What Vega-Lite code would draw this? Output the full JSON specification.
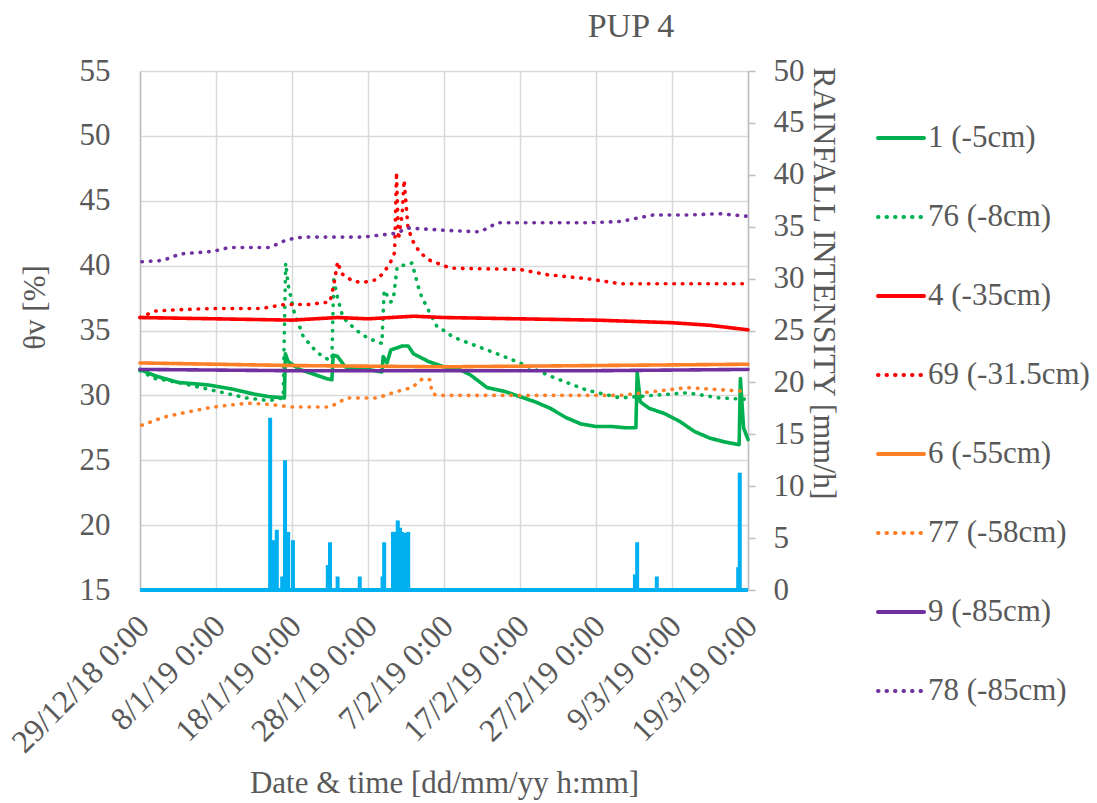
{
  "$schema": "https://vega.github.io/schema/vega-lite/v6.json",
  "width": 608,
  "height": 519,
  "autosize": {"type": "none"},
  "padding": {"left": 140, "top": 71, "right": 349, "bottom": 213},
  "background": "white",
  "title": {
    "text": "PUP 4",
    "font": "Liberation Serif",
    "fontSize": 34,
    "fontWeight": "normal",
    "color": "#595959",
    "anchor": "middle",
    "frame": "group",
    "dx": 187,
    "dy": 34,
    "baseline": "alphabetic",
    "offset": 18
  },
  "config": {
    "view": {"stroke": null},
    "axis": {
      "labelFont": "Liberation Serif",
      "titleFont": "Liberation Serif",
      "labelColor": "#595959",
      "titleColor": "#595959",
      "labelFontSize": 31,
      "titleFontSize": 31,
      "titleFontWeight": "normal",
      "gridColor": "#D9D9D9",
      "gridWidth": 1.5,
      "domainColor": "#BFBFBF",
      "domainWidth": 1.5,
      "tickColor": "#BFBFBF",
      "tickWidth": 1.5
    }
  },
  "datasets": {
    "soil": [
      {"s": "1 (-5cm)", "t": "2018-12-29T00:00", "v": 32.0},
      {"s": "1 (-5cm)", "t": "2018-12-31T00:00", "v": 31.5},
      {"s": "1 (-5cm)", "t": "2019-01-03T00:00", "v": 31.0},
      {"s": "1 (-5cm)", "t": "2019-01-07T00:00", "v": 30.8},
      {"s": "1 (-5cm)", "t": "2019-01-10T00:00", "v": 30.5},
      {"s": "1 (-5cm)", "t": "2019-01-13T00:00", "v": 30.1},
      {"s": "1 (-5cm)", "t": "2019-01-15T00:00", "v": 29.9},
      {"s": "1 (-5cm)", "t": "2019-01-17T00:00", "v": 29.8},
      {"s": "1 (-5cm)", "t": "2019-01-17T03:00", "v": 33.2},
      {"s": "1 (-5cm)", "t": "2019-01-17T12:00", "v": 32.6},
      {"s": "1 (-5cm)", "t": "2019-01-19T00:00", "v": 32.0},
      {"s": "1 (-5cm)", "t": "2019-01-21T00:00", "v": 31.6},
      {"s": "1 (-5cm)", "t": "2019-01-22T12:00", "v": 31.3},
      {"s": "1 (-5cm)", "t": "2019-01-23T06:00", "v": 31.2},
      {"s": "1 (-5cm)", "t": "2019-01-23T10:00", "v": 33.1},
      {"s": "1 (-5cm)", "t": "2019-01-24T00:00", "v": 33.0},
      {"s": "1 (-5cm)", "t": "2019-01-25T00:00", "v": 32.2},
      {"s": "1 (-5cm)", "t": "2019-01-26T12:00", "v": 32.0},
      {"s": "1 (-5cm)", "t": "2019-01-28T00:00", "v": 32.0},
      {"s": "1 (-5cm)", "t": "2019-01-29T20:00", "v": 31.8},
      {"s": "1 (-5cm)", "t": "2019-01-30T00:00", "v": 33.0},
      {"s": "1 (-5cm)", "t": "2019-01-30T12:00", "v": 32.5},
      {"s": "1 (-5cm)", "t": "2019-01-31T00:00", "v": 33.5},
      {"s": "1 (-5cm)", "t": "2019-02-01T12:00", "v": 33.8},
      {"s": "1 (-5cm)", "t": "2019-02-02T07:00", "v": 33.8},
      {"s": "1 (-5cm)", "t": "2019-02-03T00:00", "v": 33.2},
      {"s": "1 (-5cm)", "t": "2019-02-05T00:00", "v": 32.6},
      {"s": "1 (-5cm)", "t": "2019-02-07T00:00", "v": 32.2},
      {"s": "1 (-5cm)", "t": "2019-02-09T00:00", "v": 32.0},
      {"s": "1 (-5cm)", "t": "2019-02-10T10:00", "v": 31.6},
      {"s": "1 (-5cm)", "t": "2019-02-12T16:00", "v": 30.6},
      {"s": "1 (-5cm)", "t": "2019-02-15T00:00", "v": 30.3},
      {"s": "1 (-5cm)", "t": "2019-02-17T00:00", "v": 29.9},
      {"s": "1 (-5cm)", "t": "2019-02-19T00:00", "v": 29.5},
      {"s": "1 (-5cm)", "t": "2019-02-21T00:00", "v": 29.0},
      {"s": "1 (-5cm)", "t": "2019-02-23T00:00", "v": 28.3},
      {"s": "1 (-5cm)", "t": "2019-02-25T00:00", "v": 27.8},
      {"s": "1 (-5cm)", "t": "2019-02-27T00:00", "v": 27.6},
      {"s": "1 (-5cm)", "t": "2019-03-01T00:00", "v": 27.6},
      {"s": "1 (-5cm)", "t": "2019-03-03T00:00", "v": 27.5},
      {"s": "1 (-5cm)", "t": "2019-03-04T06:00", "v": 27.5},
      {"s": "1 (-5cm)", "t": "2019-03-04T10:00", "v": 31.8},
      {"s": "1 (-5cm)", "t": "2019-03-04T20:00", "v": 29.5},
      {"s": "1 (-5cm)", "t": "2019-03-06T00:00", "v": 29.0},
      {"s": "1 (-5cm)", "t": "2019-03-08T00:00", "v": 28.6},
      {"s": "1 (-5cm)", "t": "2019-03-10T00:00", "v": 28.0},
      {"s": "1 (-5cm)", "t": "2019-03-12T00:00", "v": 27.2},
      {"s": "1 (-5cm)", "t": "2019-03-14T00:00", "v": 26.7},
      {"s": "1 (-5cm)", "t": "2019-03-16T00:00", "v": 26.4},
      {"s": "1 (-5cm)", "t": "2019-03-17T20:00", "v": 26.2},
      {"s": "1 (-5cm)", "t": "2019-03-18T00:00", "v": 31.3},
      {"s": "1 (-5cm)", "t": "2019-03-18T10:00", "v": 27.5},
      {"s": "1 (-5cm)", "t": "2019-03-19T00:00", "v": 26.6},

      {"s": "76 (-8cm)", "t": "2018-12-29T00:00", "v": 31.9},
      {"s": "76 (-8cm)", "t": "2018-12-31T00:00", "v": 31.3},
      {"s": "76 (-8cm)", "t": "2019-01-03T00:00", "v": 31.0},
      {"s": "76 (-8cm)", "t": "2019-01-06T00:00", "v": 30.6},
      {"s": "76 (-8cm)", "t": "2019-01-09T00:00", "v": 30.2},
      {"s": "76 (-8cm)", "t": "2019-01-12T00:00", "v": 29.8},
      {"s": "76 (-8cm)", "t": "2019-01-15T00:00", "v": 29.6},
      {"s": "76 (-8cm)", "t": "2019-01-16T20:00", "v": 29.8},
      {"s": "76 (-8cm)", "t": "2019-01-17T04:00", "v": 40.2},
      {"s": "76 (-8cm)", "t": "2019-01-17T12:00", "v": 38.5},
      {"s": "76 (-8cm)", "t": "2019-01-18T06:00", "v": 36.5},
      {"s": "76 (-8cm)", "t": "2019-01-19T00:00", "v": 35.3},
      {"s": "76 (-8cm)", "t": "2019-01-19T12:00", "v": 34.5},
      {"s": "76 (-8cm)", "t": "2019-01-21T00:00", "v": 33.5},
      {"s": "76 (-8cm)", "t": "2019-01-22T00:00", "v": 33.0},
      {"s": "76 (-8cm)", "t": "2019-01-23T00:00", "v": 32.7},
      {"s": "76 (-8cm)", "t": "2019-01-23T06:00", "v": 32.8},
      {"s": "76 (-8cm)", "t": "2019-01-23T12:00", "v": 38.9},
      {"s": "76 (-8cm)", "t": "2019-01-24T00:00", "v": 37.5},
      {"s": "76 (-8cm)", "t": "2019-01-24T17:00", "v": 36.0},
      {"s": "76 (-8cm)", "t": "2019-01-26T12:00", "v": 35.0},
      {"s": "76 (-8cm)", "t": "2019-01-28T00:00", "v": 34.4},
      {"s": "76 (-8cm)", "t": "2019-01-29T20:00", "v": 34.0},
      {"s": "76 (-8cm)", "t": "2019-01-30T03:00", "v": 38.1},
      {"s": "76 (-8cm)", "t": "2019-01-31T00:00", "v": 37.2},
      {"s": "76 (-8cm)", "t": "2019-01-31T08:00", "v": 37.4},
      {"s": "76 (-8cm)", "t": "2019-01-31T20:00", "v": 39.9},
      {"s": "76 (-8cm)", "t": "2019-02-02T19:00", "v": 40.2},
      {"s": "76 (-8cm)", "t": "2019-02-03T20:00", "v": 37.9},
      {"s": "76 (-8cm)", "t": "2019-02-05T00:00", "v": 36.5},
      {"s": "76 (-8cm)", "t": "2019-02-06T02:00", "v": 35.3},
      {"s": "76 (-8cm)", "t": "2019-02-07T00:00", "v": 35.0},
      {"s": "76 (-8cm)", "t": "2019-02-08T04:00", "v": 34.5},
      {"s": "76 (-8cm)", "t": "2019-02-11T18:00", "v": 33.7},
      {"s": "76 (-8cm)", "t": "2019-02-14T00:00", "v": 33.2},
      {"s": "76 (-8cm)", "t": "2019-02-17T00:00", "v": 32.5},
      {"s": "76 (-8cm)", "t": "2019-02-21T08:00", "v": 31.4},
      {"s": "76 (-8cm)", "t": "2019-02-25T19:00", "v": 30.4},
      {"s": "76 (-8cm)", "t": "2019-03-02T05:00", "v": 29.8},
      {"s": "76 (-8cm)", "t": "2019-03-06T12:00", "v": 30.0},
      {"s": "76 (-8cm)", "t": "2019-03-11T00:00", "v": 30.2},
      {"s": "76 (-8cm)", "t": "2019-03-15T07:00", "v": 29.8},
      {"s": "76 (-8cm)", "t": "2019-03-19T00:00", "v": 29.7},

      {"s": "4 (-35cm)", "t": "2018-12-29T00:00", "v": 36.0},
      {"s": "4 (-35cm)", "t": "2019-01-08T00:00", "v": 35.9},
      {"s": "4 (-35cm)", "t": "2019-01-18T00:00", "v": 35.8},
      {"s": "4 (-35cm)", "t": "2019-01-24T00:00", "v": 36.0},
      {"s": "4 (-35cm)", "t": "2019-01-28T00:00", "v": 35.9},
      {"s": "4 (-35cm)", "t": "2019-02-03T00:00", "v": 36.1},
      {"s": "4 (-35cm)", "t": "2019-02-07T00:00", "v": 36.0},
      {"s": "4 (-35cm)", "t": "2019-02-17T00:00", "v": 35.9},
      {"s": "4 (-35cm)", "t": "2019-02-27T00:00", "v": 35.8},
      {"s": "4 (-35cm)", "t": "2019-03-09T00:00", "v": 35.6},
      {"s": "4 (-35cm)", "t": "2019-03-14T00:00", "v": 35.4},
      {"s": "4 (-35cm)", "t": "2019-03-19T00:00", "v": 35.05},

      {"s": "69 (-31.5cm)", "t": "2018-12-29T00:00", "v": 36.0},
      {"s": "69 (-31.5cm)", "t": "2018-12-31T00:00", "v": 36.5},
      {"s": "69 (-31.5cm)", "t": "2019-01-03T00:00", "v": 36.6},
      {"s": "69 (-31.5cm)", "t": "2019-01-08T00:00", "v": 36.7},
      {"s": "69 (-31.5cm)", "t": "2019-01-14T00:00", "v": 36.7},
      {"s": "69 (-31.5cm)", "t": "2019-01-17T00:00", "v": 37.0},
      {"s": "69 (-31.5cm)", "t": "2019-01-20T00:00", "v": 37.0},
      {"s": "69 (-31.5cm)", "t": "2019-01-23T00:00", "v": 37.2},
      {"s": "69 (-31.5cm)", "t": "2019-01-23T12:00", "v": 38.5},
      {"s": "69 (-31.5cm)", "t": "2019-01-24T00:00", "v": 40.3},
      {"s": "69 (-31.5cm)", "t": "2019-01-24T12:00", "v": 39.4},
      {"s": "69 (-31.5cm)", "t": "2019-01-26T00:00", "v": 38.8},
      {"s": "69 (-31.5cm)", "t": "2019-01-27T08:00", "v": 38.7},
      {"s": "69 (-31.5cm)", "t": "2019-01-29T00:00", "v": 38.9},
      {"s": "69 (-31.5cm)", "t": "2019-01-30T00:00", "v": 39.4},
      {"s": "69 (-31.5cm)", "t": "2019-01-30T22:00", "v": 40.2},
      {"s": "69 (-31.5cm)", "t": "2019-01-31T12:00", "v": 41.0},
      {"s": "69 (-31.5cm)", "t": "2019-01-31T18:00", "v": 47.2},
      {"s": "69 (-31.5cm)", "t": "2019-02-01T00:00", "v": 42.0},
      {"s": "69 (-31.5cm)", "t": "2019-02-01T12:00", "v": 44.0},
      {"s": "69 (-31.5cm)", "t": "2019-02-01T18:00", "v": 46.6},
      {"s": "69 (-31.5cm)", "t": "2019-02-02T06:00", "v": 43.0},
      {"s": "69 (-31.5cm)", "t": "2019-02-02T19:00", "v": 42.0},
      {"s": "69 (-31.5cm)", "t": "2019-02-03T20:00", "v": 41.0},
      {"s": "69 (-31.5cm)", "t": "2019-02-05T04:00", "v": 40.4},
      {"s": "69 (-31.5cm)", "t": "2019-02-07T10:00", "v": 39.9},
      {"s": "69 (-31.5cm)", "t": "2019-02-08T04:00", "v": 39.8},
      {"s": "69 (-31.5cm)", "t": "2019-02-17T00:00", "v": 39.7},
      {"s": "69 (-31.5cm)", "t": "2019-02-20T14:00", "v": 39.3},
      {"s": "69 (-31.5cm)", "t": "2019-02-25T19:00", "v": 39.0},
      {"s": "69 (-31.5cm)", "t": "2019-03-02T05:00", "v": 38.6},
      {"s": "69 (-31.5cm)", "t": "2019-03-11T00:00", "v": 38.6},
      {"s": "69 (-31.5cm)", "t": "2019-03-19T00:00", "v": 38.6},

      {"s": "6 (-55cm)", "t": "2018-12-29T00:00", "v": 32.5},
      {"s": "6 (-55cm)", "t": "2019-01-18T00:00", "v": 32.3},
      {"s": "6 (-55cm)", "t": "2019-02-07T00:00", "v": 32.2},
      {"s": "6 (-55cm)", "t": "2019-02-27T00:00", "v": 32.3},
      {"s": "6 (-55cm)", "t": "2019-03-19T00:00", "v": 32.4},

      {"s": "77 (-58cm)", "t": "2018-12-29T06:00", "v": 27.7},
      {"s": "77 (-58cm)", "t": "2019-01-01T00:00", "v": 28.3},
      {"s": "77 (-58cm)", "t": "2019-01-03T07:00", "v": 28.6},
      {"s": "77 (-58cm)", "t": "2019-01-07T14:00", "v": 29.1},
      {"s": "77 (-58cm)", "t": "2019-01-12T02:00", "v": 29.4},
      {"s": "77 (-58cm)", "t": "2019-01-15T03:00", "v": 29.3},
      {"s": "77 (-58cm)", "t": "2019-01-18T00:00", "v": 29.1},
      {"s": "77 (-58cm)", "t": "2019-01-23T00:00", "v": 29.1},
      {"s": "77 (-58cm)", "t": "2019-01-25T05:00", "v": 29.8},
      {"s": "77 (-58cm)", "t": "2019-01-29T05:00", "v": 29.8},
      {"s": "77 (-58cm)", "t": "2019-01-31T19:00", "v": 30.3},
      {"s": "77 (-58cm)", "t": "2019-02-02T19:00", "v": 30.6},
      {"s": "77 (-58cm)", "t": "2019-02-04T05:00", "v": 31.3},
      {"s": "77 (-58cm)", "t": "2019-02-05T04:00", "v": 31.2},
      {"s": "77 (-58cm)", "t": "2019-02-05T10:00", "v": 30.2},
      {"s": "77 (-58cm)", "t": "2019-02-06T00:00", "v": 30.0},
      {"s": "77 (-58cm)", "t": "2019-03-02T05:00", "v": 30.0},
      {"s": "77 (-58cm)", "t": "2019-03-11T00:00", "v": 30.6},
      {"s": "77 (-58cm)", "t": "2019-03-19T00:00", "v": 30.3},

      {"s": "9 (-85cm)", "t": "2018-12-29T00:00", "v": 32.0},
      {"s": "9 (-85cm)", "t": "2019-01-18T00:00", "v": 31.9},
      {"s": "9 (-85cm)", "t": "2019-02-07T00:00", "v": 31.9},
      {"s": "9 (-85cm)", "t": "2019-02-27T00:00", "v": 31.9},
      {"s": "9 (-85cm)", "t": "2019-03-19T00:00", "v": 32.0},

      {"s": "78 (-85cm)", "t": "2018-12-29T06:00", "v": 40.3},
      {"s": "78 (-85cm)", "t": "2019-01-01T00:00", "v": 40.4},
      {"s": "78 (-85cm)", "t": "2019-01-03T07:00", "v": 40.9},
      {"s": "78 (-85cm)", "t": "2019-01-07T14:00", "v": 41.1},
      {"s": "78 (-85cm)", "t": "2019-01-09T19:00", "v": 41.4},
      {"s": "78 (-85cm)", "t": "2019-01-15T03:00", "v": 41.4},
      {"s": "78 (-85cm)", "t": "2019-01-17T08:00", "v": 42.0},
      {"s": "78 (-85cm)", "t": "2019-01-19T10:00", "v": 42.2},
      {"s": "78 (-85cm)", "t": "2019-01-27T08:00", "v": 42.2},
      {"s": "78 (-85cm)", "t": "2019-01-31T19:00", "v": 42.5},
      {"s": "78 (-85cm)", "t": "2019-02-02T03:00", "v": 42.9},
      {"s": "78 (-85cm)", "t": "2019-02-07T19:00", "v": 42.7},
      {"s": "78 (-85cm)", "t": "2019-02-11T18:00", "v": 42.6},
      {"s": "78 (-85cm)", "t": "2019-02-14T00:00", "v": 43.3},
      {"s": "78 (-85cm)", "t": "2019-02-25T19:00", "v": 43.3},
      {"s": "78 (-85cm)", "t": "2019-03-02T05:00", "v": 43.4},
      {"s": "78 (-85cm)", "t": "2019-03-06T12:00", "v": 43.9},
      {"s": "78 (-85cm)", "t": "2019-03-11T00:00", "v": 43.9},
      {"s": "78 (-85cm)", "t": "2019-03-15T07:00", "v": 44.0},
      {"s": "78 (-85cm)", "t": "2019-03-19T00:00", "v": 43.8}
    ],
    "rain": [
      {"t": "2019-01-15T03:00", "r": 16.6},
      {"t": "2019-01-15T12:00", "r": 4.8},
      {"t": "2019-01-16T00:00", "r": 5.8},
      {"t": "2019-01-16T17:00", "r": 1.3},
      {"t": "2019-01-17T02:00", "r": 12.5},
      {"t": "2019-01-17T12:00", "r": 5.6},
      {"t": "2019-01-18T03:00", "r": 4.8},
      {"t": "2019-01-22T17:00", "r": 2.4},
      {"t": "2019-01-23T00:00", "r": 4.6},
      {"t": "2019-01-24T00:00", "r": 1.3},
      {"t": "2019-01-26T22:00", "r": 1.3},
      {"t": "2019-01-29T22:00", "r": 1.3},
      {"t": "2019-01-30T03:00", "r": 4.6},
      {"t": "2019-01-31T07:00", "r": 5.6},
      {"t": "2019-01-31T14:00", "r": 5.6},
      {"t": "2019-01-31T22:00", "r": 6.7},
      {"t": "2019-02-01T05:00", "r": 6.0},
      {"t": "2019-02-01T12:00", "r": 5.6},
      {"t": "2019-02-01T21:00", "r": 5.5},
      {"t": "2019-02-02T07:00", "r": 5.6},
      {"t": "2019-03-04T03:00", "r": 1.5},
      {"t": "2019-03-04T10:00", "r": 4.6},
      {"t": "2019-03-07T00:00", "r": 1.3},
      {"t": "2019-03-17T17:00", "r": 2.2},
      {"t": "2019-03-17T22:00", "r": 11.3}
    ]
  },
  "layer": [
    {
      "data": {"name": "rain"},
      "layer": [
        {
          "mark": {"type": "rule", "color": "#00B0F0", "strokeWidth": 4},
          "encoding": {
            "x": {"field": "t", "type": "temporal"},
            "y": {
              "field": "r",
              "type": "quantitative",
              "scale": {"domain": [0, 50], "nice": false},
              "axis": {
                "orient": "right",
                "title": "RAINFALL INTENSITY [mm/h]",
                "values": [0, 5, 10, 15, 20, 25, 30, 35, 40, 45, 50],
                "grid": false,
                "tickSize": 7,
                "labelPadding": 18,
                "titleFontSize": 32,
                "titleAngle": 90,
                "titleBaseline": "middle",
                "titleX": 75,
                "titleY": 212
              }
            },
            "y2": {"datum": 0}
          }
        },
        {
          "data": {"values": [{}]},
          "mark": {"type": "rule", "color": "#00B0F0", "strokeWidth": 4},
          "encoding": {"y": {"datum": 0}}
        }
      ]
    },
    {
      "data": {"name": "soil"},
      "mark": {"type": "line", "strokeWidth": 3.6, "strokeCap": "round", "strokeJoin": "round"},
      "encoding": {
        "x": {
          "field": "t",
          "type": "temporal",
          "scale": {
            "domain": [
              {"year": 2018, "month": 12, "date": 29},
              {"year": 2019, "month": 3, "date": 19}
            ],
            "nice": false
          },
          "axis": {
            "title": "Date & time [dd/mm/yy h:mm]",
            "format": "%-d/%-m/%y %-H:%M",
            "values": [
              {"year": 2018, "month": 12, "date": 29},
              {"year": 2019, "month": 1, "date": 8},
              {"year": 2019, "month": 1, "date": 18},
              {"year": 2019, "month": 1, "date": 28},
              {"year": 2019, "month": 2, "date": 7},
              {"year": 2019, "month": 2, "date": 17},
              {"year": 2019, "month": 2, "date": 27},
              {"year": 2019, "month": 3, "date": 9},
              {"year": 2019, "month": 3, "date": 19}
            ],
            "labelAngle": -45,
            "labelFontSize": 32,
            "labelPadding": 20,
            "labelOffset": -7,
            "labelOverlap": false,
            "labelBound": false,
            "labelFlush": false,
            "ticks": false,
            "domain": false,
            "grid": true,
            "titleBaseline": "alphabetic",
            "titleY": 202
          }
        },
        "y": {
          "field": "v",
          "type": "quantitative",
          "scale": {"domain": [15, 55], "nice": false, "zero": false},
          "axis": {
            "orient": "left",
            "title": "θv [%]",
            "values": [15, 20, 25, 30, 35, 40, 45, 50, 55],
            "grid": true,
            "ticks": false,
            "labelPadding": 30,
            "titleBaseline": "middle",
            "titleX": -105,
            "titleY": 236
          }
        },
        "color": {
          "field": "s",
          "type": "nominal",
          "scale": {
            "domain": ["1 (-5cm)", "76 (-8cm)", "4 (-35cm)", "69 (-31.5cm)", "6 (-55cm)", "77 (-58cm)", "9 (-85cm)", "78 (-85cm)"],
            "range": ["#00B050", "#00B050", "#FF0000", "#FF0000", "#FF7F27", "#FF7F27", "#7030A0", "#7030A0"]
          },
          "legend": {
            "orient": "none",
            "legendX": 736,
            "legendY": 42,
            "title": null,
            "padding": 0,
            "symbolType": "stroke",
            "symbolSize": 2116,
            "symbolStrokeWidth": 4,
            "labelFont": "Liberation Serif",
            "labelFontSize": 31,
            "labelColor": "#595959",
            "labelOffset": 2,
            "labelLimit": 400,
            "rowPadding": 39,
            "encode": {"symbols": {"update": {"strokeCap": {"value": "round"}}}}
          }
        },
        "strokeDash": {
          "field": "s",
          "type": "nominal",
          "scale": {
            "domain": ["1 (-5cm)", "76 (-8cm)", "4 (-35cm)", "69 (-31.5cm)", "6 (-55cm)", "77 (-58cm)", "9 (-85cm)", "78 (-85cm)"],
            "range": [[1, 0], [0.5, 8], [1, 0], [0.5, 8], [1, 0], [0.5, 8], [1, 0], [0.5, 8]]
          },
          "legend": {
            "orient": "none",
            "legendX": 736,
            "legendY": 42,
            "title": null,
            "padding": 0,
            "symbolType": "stroke",
            "symbolSize": 2116,
            "symbolStrokeWidth": 4,
            "labelFont": "Liberation Serif",
            "labelFontSize": 31,
            "labelColor": "#595959",
            "labelOffset": 2,
            "labelLimit": 400,
            "rowPadding": 39,
            "encode": {"symbols": {"update": {"strokeCap": {"value": "round"}}}}
          }
        }
      }
    }
  ],
  "resolve": {"scale": {"y": "independent"}}
}
